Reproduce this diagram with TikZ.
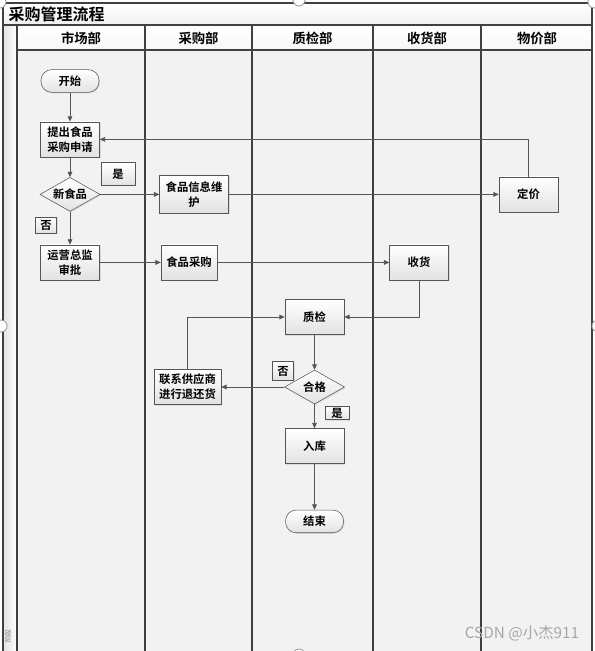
\documentclass[tikz,border=0pt]{standalone}
\usepackage{fontspec}
\setmainfont{Noto Sans CJK SC}[BoldFont={Noto Sans CJK SC Bold}]
\usepackage{tikz}
\usetikzlibrary{arrows.meta,positioning,shapes.geometric,shadows}
\definecolor{framecol}{RGB}{64,64,64}
\definecolor{linecol}{RGB}{85,85,85}
\definecolor{lanecol}{RGB}{242,242,242}
\definecolor{boxtop}{RGB}{255,255,255}
\definecolor{boxbot}{RGB}{226,226,226}
\definecolor{markcol}{RGB}{150,150,150}

\begin{document}
\begin{tikzpicture}[
    x=0.75pt, y=-0.75pt, >={Triangle[length=4pt,width=3.5pt]},
    box/.style={draw=linecol, top color=boxtop, bottom color=boxbot, align=center,
                inner sep=1pt, font=\fontsize{8.5}{11}\selectfont\bfseries,
                minimum width=44.25pt, minimum height=26.25pt,
                drop shadow={opacity=0.2, shadow xshift=0.8pt, shadow yshift=-0.8pt}},
    term/.style={box, rounded corners=8pt, minimum width=43.5pt, minimum height=17pt},
    dec/.style={box, diamond, shape aspect=1.76, inner sep=0pt,
                minimum width=45pt, minimum height=25.5pt},
    tag/.style={box, inner sep=0.5pt, minimum width=15.75pt, minimum height=12pt},
    lanehd/.style={font=\fontsize{10}{12}\selectfont\bfseries},
    sep/.style={draw=framecol, line width=1pt},
    handle/.style={draw=markcol, fill=white, line width=0.6pt},
    ar/.style={->, draw=linecol, line width=0.6pt}
  ]
  \useasboundingbox (0,0) rectangle (594,651);
  \fill[white] (0,0) rectangle (594,651);
  \fill[top color=white, bottom color=gray!12] (3,3) rectangle (592,25);
  \fill[top color=white, bottom color=gray!6] (17,25) rectangle (592,50);
  \fill[left color=gray!22, right color=white] (3,25) rectangle (17,651);
  \fill[lanecol] (17,50) rectangle (592,651);

  \draw[sep] (3,651) -- (3,3) -- (592,3) -- (592,651);
  \draw[sep] (3,25) -- (592,25);
  \draw[sep] (17,50) -- (592,50);
  \draw[sep] (17,25) -- (17,651);
  \draw[sep] (145,25) -- (145,651);
  \draw[sep] (252,25) -- (252,651);
  \draw[sep] (373,25) -- (373,651);
  \draw[sep] (481,25) -- (481,651);

  \node[anchor=west, font=\fontsize{12}{14}\selectfont\bfseries] (title) at (4,14) {采购管理流程};
  \node[lanehd] (mkthd) at (81,38) {市场部};
  \node[lanehd] (purhd) at (198.5,38) {采购部};
  \node[lanehd] (qchd) at (312.5,38) {质检部};
  \node[lanehd] (rcvhd) at (427,38) {收货部};
  \node[lanehd] (prchd) at (537,38) {物价部};

  \node[term] (start) at (70,81) {开始};
  \node[box, below=21.75pt of start] (req) {提出食品\\采购申请};
  \node[dec, below=15pt of req] (isnew) {新食品};
  \node[box, below=24.75pt of isnew] (approve) {运营总监\\审批};
  \node[box, right=44.25pt of isnew, minimum width=51.75pt, minimum height=28.5pt] (info) {食品信息维\\护};
  \node[box, right=45.75pt of approve, minimum width=42pt] (buy) {食品采购};
  \node[box, right=129pt of buy] (recv) {收货};
  \node[box, right=202.5pt of info] (price) {定价};
  \node[box, below left=14.25pt and 33.75pt of recv] (check) {质检};
  \node[dec, below=26.25pt of check] (ok) {合格};
  \node[box, left=47.25pt of ok, minimum width=50.25pt] (ret) {联系供应商\\进行退还货};
  \node[box, below=18pt of ok] (store) {入库};
  \node[term, below=34.5pt of store] (finish) {结束};

  \node[tag, minimum width=25.5pt, minimum height=17pt] (yes1) at (118,174) {是};
  \node[tag] (no1) at (46,225) {否};
  \node[tag, minimum height=14pt] (no2) at (283,371) {否};
  \node[tag, minimum width=18pt, minimum height=10pt] (yes2) at (337,413) {是};

  \draw[ar] (start) -- (req);
  \draw[ar] (req) -- (isnew);
  \draw[ar] (isnew) -- (info);
  \draw[ar] (isnew) -- (approve);
  \draw[ar] (info) -- (price);
  \draw[ar] (price.north) |- (req.east);
  \draw[ar] (approve) -- (buy);
  \draw[ar] (buy) -- (recv);
  \draw[ar] (recv.south) |- (check.east);
  \draw[ar] (check) -- (ok);
  \draw[ar] (ok) -- (ret);
  \draw[ar] (ret.north) |- (check.west);
  \draw[ar] (ok) -- (store);
  \draw[ar] (store) -- (finish);

  \node[rotate=90, text=gray, font=\fontsize{5}{6}\selectfont] (phase) at (8,636) {阶段};
  \node[text=gray!70, font=\fontsize{11.5}{13}\selectfont] (mark) at (522,633) {CSDN @小杰911};

  \draw[handle] (0,2) circle[radius=4.5pt];
  \draw[handle] (299,0) circle[radius=4.5pt];
  \draw[handle] (594,2) circle[radius=4.5pt];
  \draw[handle] (1,326) circle[radius=4.5pt];
  \draw[handle] (598,326) circle[radius=4.5pt];
  \draw[handle] (299,655) circle[radius=4.5pt];
\end{tikzpicture}
\end{document}
